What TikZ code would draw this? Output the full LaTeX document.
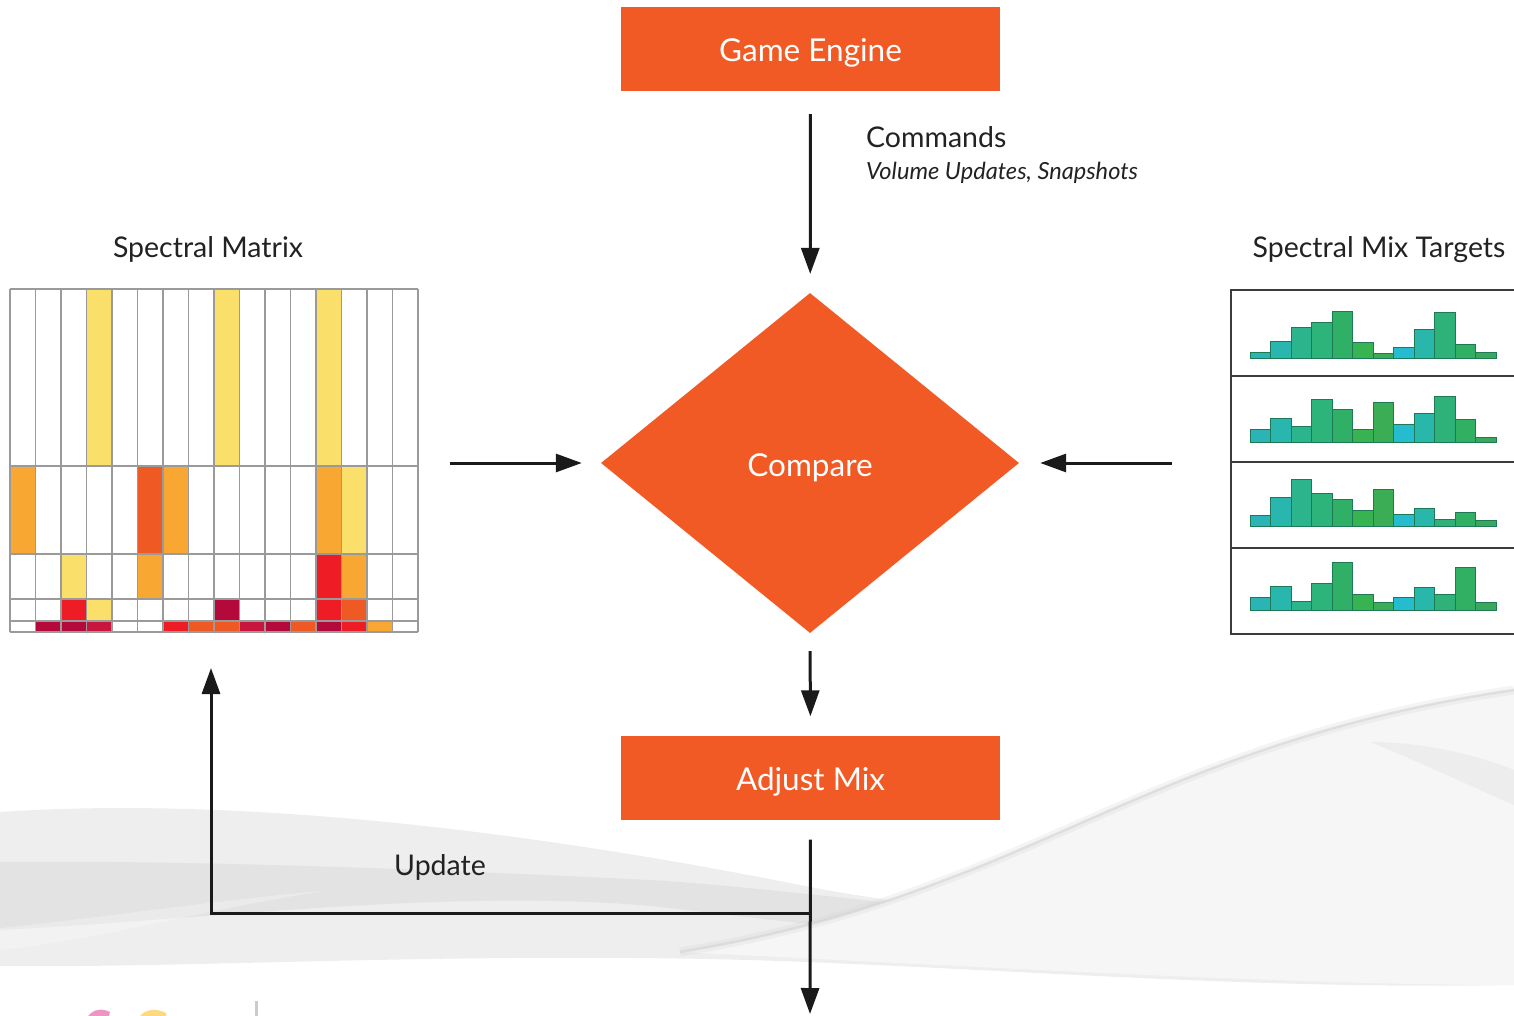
\documentclass[tikz,border=0pt]{standalone}
\usepackage{fontspec}
\setmainfont{Lato}
\usetikzlibrary{shapes.geometric,arrows.meta,calc}

\definecolor{brand}{HTML}{F15A24}
\definecolor{ink}{HTML}{1A1A1A}
\definecolor{txt}{HTML}{222222}
\definecolor{gridc}{HTML}{9A9A9A}
% heat-map colours
\definecolor{myel}{HTML}{FADF6B}
\definecolor{morg}{HTML}{F8A832}
\definecolor{mrorg}{HTML}{EF5A24}
\definecolor{mred}{HTML}{EE1D25}
\definecolor{mcrim}{HTML}{B3093B}
\definecolor{mcrimr}{HTML}{C8173F}
% histogram colours, left to right
\definecolor{bar0}{HTML}{2AB4B6}
\definecolor{bar1}{HTML}{28B6AE}
\definecolor{bar2}{HTML}{2CB58C}
\definecolor{bar3}{HTML}{2DB47A}
\definecolor{bar4}{HTML}{2FB066}
\definecolor{bar5}{HTML}{38B352}
\definecolor{bar6}{HTML}{3AAD55}
\definecolor{bar7}{HTML}{26BCCF}
\definecolor{bar8}{HTML}{29B7AC}
\definecolor{bar9}{HTML}{2EB27A}
\definecolor{bar10}{HTML}{31B063}
\definecolor{bar11}{HTML}{3AA85C}
\definecolor{barline}{HTML}{1E7A55}

\begin{document}
\begin{tikzpicture}[x=1pt,y=-1pt,
  procbox/.style={fill=brand, text=white, minimum width=379pt, minimum height=84pt,
    inner sep=0pt, text height=26pt, text depth=0pt, font=\fontsize{31.5}{36}\selectfont},
  decide/.style={diamond, fill=brand, text=white, minimum width=418pt, minimum height=340pt,
    inner sep=0pt, text height=26pt, text depth=0pt, font=\fontsize{31.5}{36}\selectfont},
  lbl/.style={text=txt, inner sep=0pt, font=\fontsize{28.5}{34}\selectfont},
  sublbl/.style={text=txt, inner sep=0pt, font=\fontsize{23.6}{28}\selectfont\itshape},
  arr/.style={draw=ink, line width=3pt, -{Triangle[length=26pt,width=18pt]}},
  gridline/.style={draw=gridc, line width=1.3pt},
  holder/.style={inner sep=0pt, outer sep=0pt}
]
\useasboundingbox (0,0) rectangle (1514,1016);

% ---------- soft grey ribbons in the background ----------
\begin{scope}
\clip (0,0) rectangle (1514,1016);
% broad light band
\fill[gray!13] (0,812) .. controls (250,795) and (550,835) .. (800,885)
  .. controls (1000,925) and (1300,935) .. (1514,930) -- (1514,985)
  .. controls (1250,990) and (1000,968) .. (750,960)
  .. controls (450,952) and (200,968) .. (0,966) -- cycle;
% darker crossing ribbon
\fill[gray!24, opacity=0.75] (0,862) .. controls (200,860) and (450,870) .. (650,880)
  .. controls (850,892) and (1100,940) .. (1514,936) -- (1514,962)
  .. controls (1100,964) and (850,928) .. (650,906)
  .. controls (450,888) and (200,920) .. (0,930) -- cycle;
% pale strip lower left
\fill[white, opacity=0.25] (0,928) .. controls (100,918) and (200,902) .. (330,890)
  .. controls (200,910) and (100,940) .. (0,950) -- cycle;
% rising swoosh to the upper right
\fill[gray!7] (680,952) .. controls (800,932) and (880,905) .. (950,878)
  .. controls (1100,822) and (1250,728) .. (1514,690) -- (1514,985)
  .. controls (1300,985) and (1000,968) .. (680,952) -- cycle;
\draw[gray!30, line width=9pt, opacity=0.3] (680,952) .. controls (800,932) and (880,905) .. (950,878)
  .. controls (1100,822) and (1250,728) .. (1514,690);
\draw[gray!38, line width=2.5pt, opacity=0.5] (680,952) .. controls (800,932) and (880,905) .. (950,878)
  .. controls (1100,822) and (1250,728) .. (1514,690);
% fold shading in the upper right
\fill[gray!16, opacity=0.8] (1370,742) .. controls (1430,742) and (1485,758) .. (1514,770)
  -- (1514,805) .. controls (1470,786) and (1420,762) .. (1370,742) -- cycle;
% footer fragments
\fill[gray!40] (255,1001) rectangle (258,1016);
\fill[magenta!70!purple, opacity=0.45] (88,1016) .. controls (94,1009) and (102,1008) .. (110,1012) -- (109,1016) -- cycle;
\fill[orange!60!yellow, opacity=0.5] (140,1016) .. controls (146,1009) and (156,1008) .. (166,1013) -- (166,1016) -- cycle;
\end{scope}

% ---------- spectral matrix ----------
\foreach \c/\ya/\yb/\col in {
  3/289/466/myel, 8/289/466/myel, 12/289/466/myel,
  0/466/554/morg, 5/466/554/mrorg, 6/466/554/morg, 12/466/554/morg, 13/466/554/myel,
  2/554/599/myel, 5/554/599/morg, 12/554/599/mred, 13/554/599/morg,
  2/599/621/mred, 3/599/621/myel, 8/599/621/mcrim, 12/599/621/mred, 13/599/621/mrorg,
  1/621/632/mcrim, 2/621/632/mcrim, 3/621/632/mcrimr, 6/621/632/mred, 7/621/632/mrorg,
  8/621/632/mrorg, 9/621/632/mcrimr, 10/621/632/mcrim, 11/621/632/mrorg, 12/621/632/mcrim,
  13/621/632/mred, 14/621/632/morg}
  \fill[\col] ({10+\c*25.5},\ya) rectangle ({10+(\c+1)*25.5},\yb);
\foreach \i in {0,...,16}
  \draw[gridline] ({10+\i*25.5},289) -- ({10+\i*25.5},632);
\foreach \y in {289,466,554,599,621,632}
  \draw[gridline] (10,\y) -- (418,\y);
\node[holder, minimum width=408pt, minimum height=343pt] (sm) at (214,460.5) {};
\node[lbl, anchor=base] (smlbl) at (208,258) {Spectral Matrix};

% ---------- spectral mix targets ----------
\foreach \base/\hs in {
  358/{6,17,31,36,47,16,5,11,29,46,14,6},
  442/{13,24,16,43,33,13,40,18,29,46,23,5},
  526/{11,29,47,33,27,16,37,12,18,7,14,6},
  610/{13,24,9,27,48,16,8,13,23,16,43,8}}
  \foreach \h [count=\j from 0] in \hs
    \filldraw[fill=bar\j, draw=barline, line width=0.8pt]
      ({1250+\j*20.5},\base) rectangle ({1250+(\j+1)*20.5},{\base-\h});
\draw[draw=ink!85, line width=2pt] (1540,290) -- (1231,290) -- (1231,634) -- (1540,634);
\foreach \y in {376,462,548}
  \draw[draw=ink!85, line width=2pt] (1231,\y) -- (1540,\y);
\node[holder, minimum width=283pt, minimum height=344pt] (tg) at (1372.5,462) {};
\node[lbl, anchor=base] (tglbl) at (1379,258) {Spectral Mix Targets};

% ---------- flow ----------
\node[procbox] (ge) at (810.5,49) {Game Engine};
\node[decide] (cmp) at (810,463) {Compare};
\node[procbox] (am) at (810.5,777.5) {Adjust Mix};

\node[lbl, anchor=base west] (cmdlbl) at (866,148) {Commands};
\node[sublbl, anchor=base west] (cmdsub) at (866,180) {Volume Updates, Snapshots};
\node[lbl, anchor=base] (updlbl) at (440,875) {Update};

\coordinate (out) at (810,1014);
\coordinate (split) at (810,913);

\draw[arr, shorten <=23pt, shorten >=19pt] (ge) -- (cmp);
\draw[arr, shorten <=32pt, shorten >=19pt] (sm.east |- cmp) -- (cmp.west);
\draw[arr, shorten <=59pt, shorten >=21pt] (tg.west |- cmp) -- (cmp.east);
\draw[arr, shorten <=18pt, shorten >=19pt] (cmp.south) -- (am.north);
\draw[arr, shorten <=20pt] (am.south) -- (out);
\draw[arr, shorten >=36pt] (split) -| ([xshift=-3pt]sm.south);
\end{tikzpicture}
\end{document}
